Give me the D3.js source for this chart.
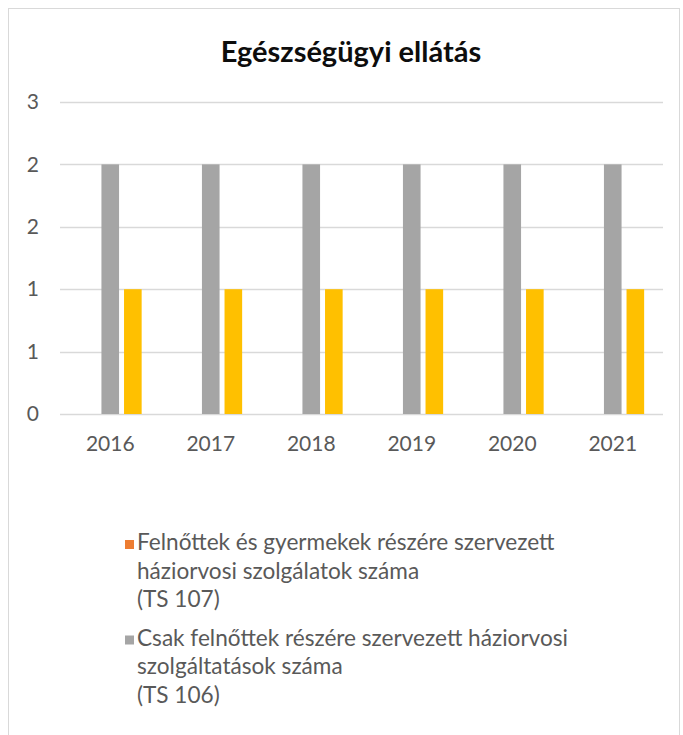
<!DOCTYPE html>
<html>
<head>
<meta charset="utf-8">
<script src="https://cdn.jsdelivr.net/npm/d3@7"></script>
<style>
  body { margin: 0; background: #fff; }
  svg { display: block; font-family: Lato, "Open Sans", sans-serif; }
</style>
</head>
<body>
<div id="chart"></div>
<script>
const years = ["2016", "2017", "2018", "2019", "2020", "2021"];
const adultChild = [0, 0, 0, 0, 0, 0];   // TS 107
const adultOnly = [2, 2, 2, 2, 2, 2];    // TS 106
const thirdSeries = [1, 1, 1, 1, 1, 1];
const seriesColors = ["#ed7d31", "#a5a5a5", "#ffc000"];
const yTicks = [0, 0.5, 1, 1.5, 2, 2.5];
const yTickLabels = ["0", "1", "1", "2", "2", "3"];
const legendLabels = [
  ["Felnőttek és gyermekek részére szervezett", "háziorvosi szolgálatok száma", "(TS 107)"],
  ["Csak felnőttek részére szervezett háziorvosi", "szolgáltatások száma", "(TS 106)"]
];

const width = 683, height = 735;
const margin = ({top: 102, right: 20, bottom: 321, left: 60});
const series = [adultChild, adultOnly, thirdSeries];

const svg = d3.select("#chart").append("svg")
  .attr("width", width)
  .attr("height", height);

// chart frame
svg.append("rect")
  .attr("x", 8.5).attr("y", 8.5)
  .attr("width", 671).attr("height", 760)
  .attr("fill", "#fff")
  .attr("stroke", "#d9d9d9");

svg.append("text")
  .attr("x", 351).attr("y", 62)
  .attr("text-anchor", "middle")
  .attr("font-weight", 700)
  .attr("font-size", 29)
  .attr("fill", "#0d0d0d")
  .text("Egészségügyi ellátás");

const x0 = d3.scaleBand()
  .domain(years)
  .range([margin.left, 663]);
const x1 = d3.scaleBand()
  .domain(d3.range(series.length))
  .range([18.85, 81.65])
  .paddingInner(0.22);
const y = d3.scaleLinear()
  .domain([0, 2.5])
  .range([414, margin.top]);

// gridlines
svg.append("g")
  .selectAll("line")
  .data(yTicks)
  .join("line")
    .attr("x1", margin.left)
    .attr("x2", 663)
    .attr("y1", d => Math.round(y(d)) + 0.5)
    .attr("y2", d => Math.round(y(d)) + 0.5)
    .attr("stroke", "#d9d9d9")
    .attr("stroke-width", 1.5);

const yAxis = g => g
  .attr("transform", `translate(${margin.left},0)`)
  .call(d3.axisLeft(y).tickValues(yTicks).tickFormat((d, i) => yTickLabels[i]).tickSize(0).tickPadding(21))
  .call(g => g.select(".domain").remove())
  .call(g => g.selectAll(".tick text")
      .attr("font-family", "Lato, sans-serif")
      .attr("font-size", 21)
      .attr("fill", "#595959"));

const xAxis = g => g
  .attr("transform", `translate(0,414)`)
  .call(d3.axisBottom(x0).tickSize(0).tickPadding(22))
  .call(g => g.select(".domain").remove())
  .call(g => g.selectAll(".tick text")
      .attr("font-family", "Lato, sans-serif")
      .attr("font-size", 21)
      .attr("fill", "#595959"));

svg.append("g").call(yAxis);
svg.append("g").call(xAxis);

// bars
svg.append("g")
  .selectAll("g")
  .data(years)
  .join("g")
    .attr("transform", d => `translate(${x0(d)},0)`)
  .selectAll("rect")
  .data((d, i) => series.map((s, k) => ({k, v: s[i]})))
  .join("rect")
    .attr("x", d => x1(d.k))
    .attr("width", x1.bandwidth())
    .attr("y", d => y(d.v))
    .attr("height", d => y(0) - y(d.v))
    .attr("fill", d => seriesColors[d.k]);

// legend
const legend = svg.append("g")
  .attr("font-size", 22.6)
  .attr("fill", "#595959");
const lineH = 28.5;
legendLabels.forEach((lines, i) => {
  const top = 550 + i * 95.5;
  legend.append("rect")
    .attr("x", 125).attr("y", top - 10)
    .attr("width", 9).attr("height", 9)
    .attr("fill", seriesColors[i]);
  legend.append("text")
    .attr("x", 137).attr("y", top)
    .selectAll("tspan")
    .data(lines)
    .join("tspan")
      .attr("x", 137)
      .attr("dy", (d, j) => j === 0 ? 0 : lineH)
      .text(d => d);
});
</script>
</body>
</html>
